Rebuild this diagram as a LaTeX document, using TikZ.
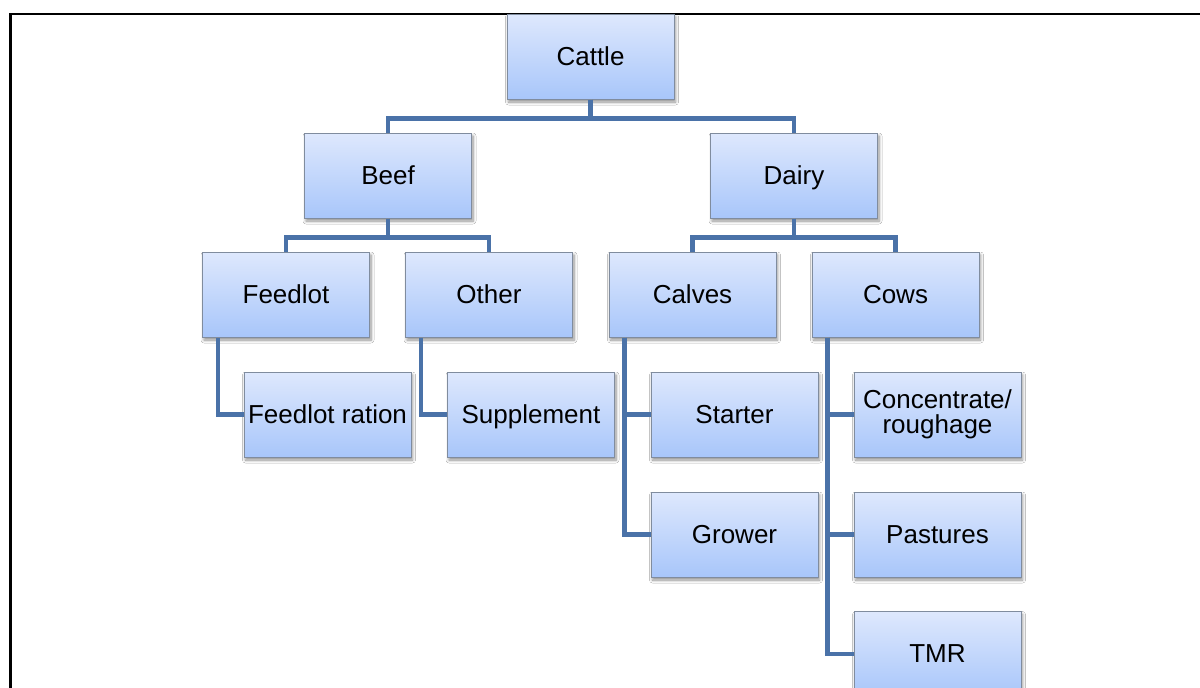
\documentclass[tikz,border=0pt]{standalone}
\usepackage{fontspec}
\setmainfont{Liberation Sans}
\usetikzlibrary{calc,shadows.blur}
\definecolor{linkblue}{RGB}{74,114,168}
\definecolor{boxtop}{RGB}{222,232,253}
\definecolor{boxbot}{RGB}{168,198,250}
\definecolor{boxedge}{RGB}{128,140,158}
\tikzset{
  unit/.style={draw=boxedge, line width=1pt, top color=boxtop, bottom color=boxbot,
    minimum width=167pt, minimum height=85pt, inner sep=0pt, align=center,
    font=\fontsize{26}{27}\selectfont, text height=20.7pt, text depth=3.5pt,
    blur shadow={shadow xshift=1.5pt, shadow yshift=-3pt, shadow blur steps=6,
      shadow blur radius=3pt, shadow opacity=45}},
  twoline/.style={text height=, text depth=},
  link/.style={draw=linkblue, line width=4.5pt}
}
\begin{document}
\begin{tikzpicture}[x=1pt,y=-1pt]
  \useasboundingbox (0,0) rectangle (1200,688);
  \clip (0,0) rectangle (1200,688);
  \fill[white] (0,0) rectangle (1200,688);
  % page frame
  \draw[line width=2.2pt] (10.5,14) rectangle (1230,720);

  % boxes
  \node[unit] (cattle)  at (590.5,56.5) {Cattle};
  \node[unit] (beef)    at (388,175.5) {Beef};
  \node[unit] (dairy)   at (794,175.5) {Dairy};
  \node[unit] (feedlot) at (286,294.5) {Feedlot};
  \node[unit] (other)   at (489,294.5) {Other};
  \node[unit] (calves)  at (692.5,294.5) {Calves};
  \node[unit] (cows)    at (895.5,294.5) {Cows};
  \node[unit] (ration)  at (327.5,414.5) {Feedlot ration};
  \node[unit] (suppl)   at (531,414.5) {Supplement};
  \node[unit] (starter) at (734.5,414.5) {Starter};
  \node[unit] (grower)  at (734.5,534.5) {Grower};
  \node[unit, twoline] (conc) at (937.5,414.5) {Concentrate/\\[-2pt]roughage};
  \node[unit] (past)    at (937.5,534.5) {Pastures};
  \node[unit] (tmr)     at (937.5,654) {TMR};

  % tree connectors
  \draw[link] (cattle.south) -- ++(0,19) -| (beef.north);
  \draw[link] (cattle.south) -- ++(0,19) -| (dairy.north);
  \draw[link] (beef.south) -- ++(0,19) -| (feedlot.north);
  \draw[link] (beef.south) -- ++(0,19) -| (other.north);
  \draw[link] (dairy.south) -- ++(0,19) -| (calves.north);
  \draw[link] (dairy.south) -- ++(0,19) -| (cows.north);

  % side connectors
  \draw[link] ($(feedlot.south west)+(16,0)$) |- (ration.west);
  \draw[link] ($(other.south west)+(16,0)$) |- (suppl.west);
  \draw[link] ($(calves.south west)+(16,0)$) |- (starter.west);
  \draw[link] ($(calves.south west)+(16,0)$) |- (grower.west);
  \draw[link] ($(cows.south west)+(16,0)$) |- (conc.west);
  \draw[link] ($(cows.south west)+(16,0)$) |- (past.west);
  \draw[link] ($(cows.south west)+(16,0)$) |- (tmr.west);
\end{tikzpicture}
\end{document}
